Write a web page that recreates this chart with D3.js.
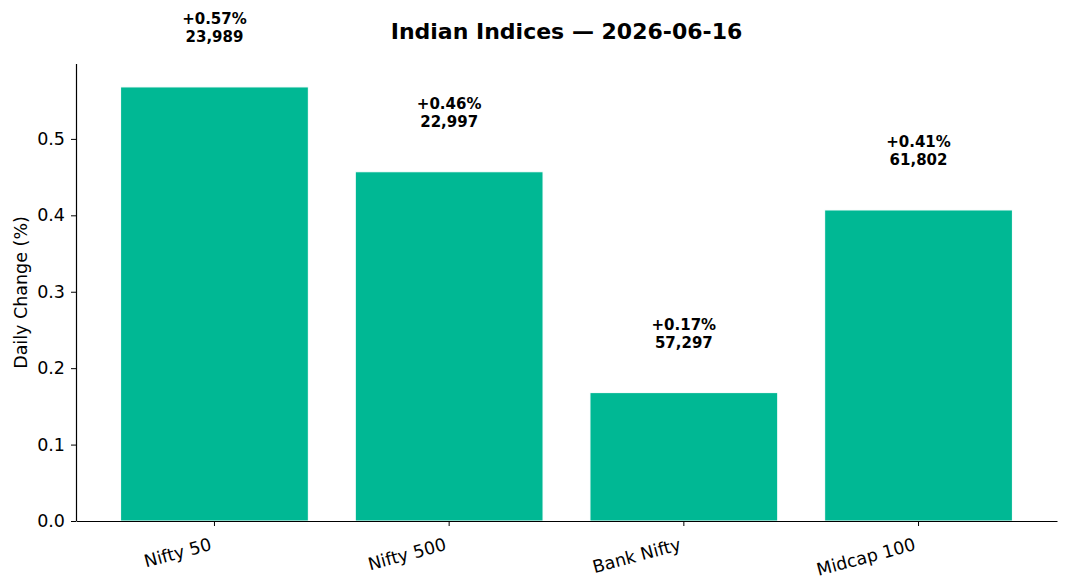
<!DOCTYPE html>
<html>
<head>
<meta charset="utf-8">
<script src="https://cdn.jsdelivr.net/npm/d3@7"></script>
<style>
  body { margin: 0; background: #fff; }
  text { font-family: "DejaVu Sans", sans-serif; }
</style>
</head>
<body>
<div id="chart"></div>
<script>
const indices = ["Nifty 50", "Nifty 500", "Bank Nifty", "Midcap 100"];
const changes = [0.568, 0.457, 0.168, 0.407];
const changeLabels = ["+0.57%", "+0.46%", "+0.17%", "+0.41%"];
const closeLabels = ["23,989", "22,997", "57,297", "61,802"];
const yTicks = [0.0, 0.1, 0.2, 0.3, 0.4, 0.5];

function drawChart() {
    const width = 1068;
    const height = 587;
    const margin = { top: 64, bottom: 66, left: 76, right: 11 };

    const svg = d3.select("#chart")
        .append("svg")
        .attr("width", width)
        .attr("height", height);

    const x = d3.scaleBand()
        .domain(indices)
        .range([margin.left, width - margin.right])
        .paddingInner(0.2)
        .paddingOuter(0.19);

    const y = d3.scaleLinear()
        .domain([0, 0.598])
        .range([height - margin.bottom, margin.top]);

    // bars
    svg.selectAll("rect.bar")
        .data(indices)
        .enter()
        .append("rect")
        .attr("class", "bar")
        .attr("x", d => x(d))
        .attr("y", (d, i) => y(changes[i]))
        .attr("width", x.bandwidth())
        .attr("height", (d, i) => y(0) - y(changes[i]))
        .attr("fill", "#00b894")
        .attr("stroke", "#ffffff")
        .attr("stroke-width", 1);

    // value labels
    const labels = svg.selectAll("text.val")
        .data(indices)
        .enter()
        .append("text")
        .attr("class", "val")
        .attr("text-anchor", "middle")
        .style("font-size", "15px")
        .style("font-weight", "bold")
        .attr("x", d => x(d) + x.bandwidth() / 2)
        .attr("y", (d, i) => y(changes[i]) - 63);

    labels.append("tspan")
        .text((d, i) => changeLabels[i]);
    labels.append("tspan")
        .attr("x", d => x(d) + x.bandwidth() / 2)
        .attr("dy", 18)
        .text((d, i) => closeLabels[i]);

    // y axis
    const yAxis = svg.append("g")
        .attr("transform", `translate(${margin.left},0)`)
        .call(d3.axisLeft(y).tickValues(yTicks).tickFormat(d3.format(".1f")).tickSize(5).tickPadding(6));
    yAxis.select(".domain").attr("stroke", "#000").attr("stroke-width", 1.2)
        .attr("d", `M0.5,${margin.top}V${height - margin.bottom}`);
    yAxis.selectAll("text").style("font-size", "17.5px").attr("fill", "#000");

    // x axis
    const xAxis = svg.append("g")
        .attr("transform", `translate(0,${height - margin.bottom})`)
        .call(d3.axisBottom(x).tickSize(5).tickSizeOuter(0));
    xAxis.select(".domain").attr("stroke", "#000").attr("stroke-width", 1.2);
    xAxis.selectAll("text")
        .style("font-size", "17.5px")
        .attr("fill", "#000")
        .attr("text-anchor", "end")
        .attr("dy", "0")
        .attr("transform", "translate(-4,21) rotate(-15)");

    // y label
    svg.append("text")
        .attr("transform", "rotate(-90)")
        .attr("x", -(margin.top + height - margin.bottom) / 2)
        .attr("y", 27)
        .attr("text-anchor", "middle")
        .style("font-size", "17.5px")
        .text("Daily Change (%)");

    // title
    svg.append("text")
        .attr("x", (margin.left + width - margin.right) / 2)
        .attr("y", 39)
        .attr("text-anchor", "middle")
        .style("font-size", "22px")
        .style("font-weight", "bold")
        .text("Indian Indices — 2026-06-16");
}

document.addEventListener("DOMContentLoaded", function() {
    drawChart();
});
</script>
</body>
</html>
